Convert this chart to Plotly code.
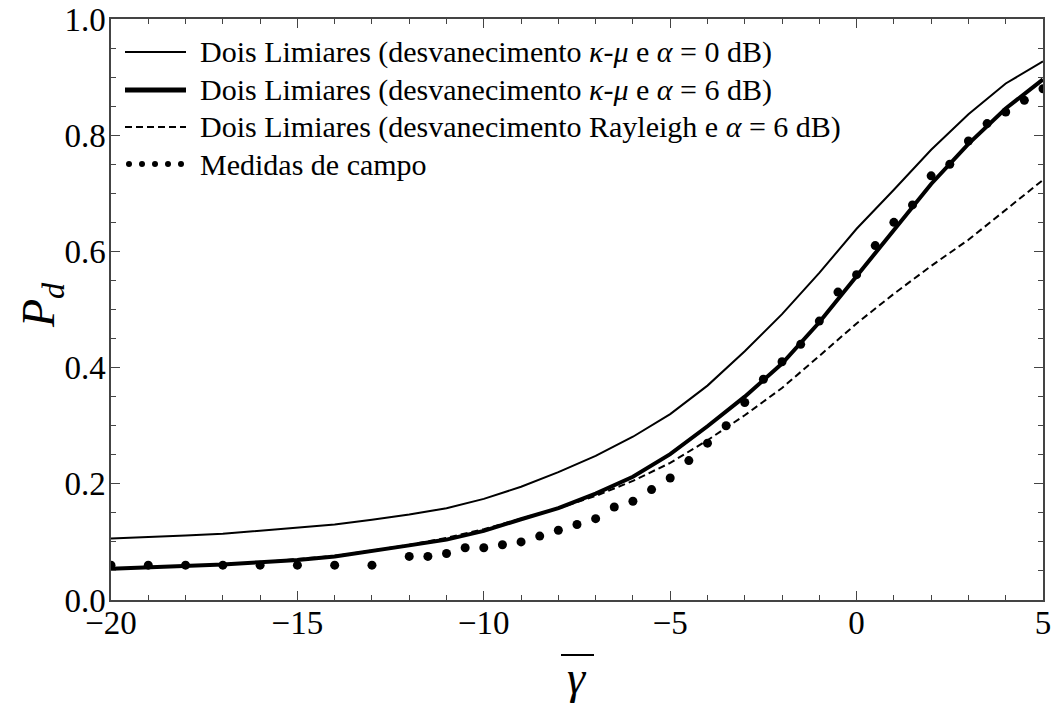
import plotly.graph_objects as go

# Average SNR (dB) at which the theoretical curves are evaluated
gamma_db = [-20, -19, -18, -17, -16, -15, -14, -13, -12, -11, -10, -9, -8,
            -7, -6, -5, -4, -3, -2, -1, 0, 1, 2, 3, 4, 5]

# Detection probability, two-threshold detector
pd_kmu_0db = [0.106, 0.108, 0.111, 0.114, 0.119, 0.124, 0.130, 0.138, 0.147,
              0.158, 0.174, 0.195, 0.220, 0.248, 0.281, 0.320, 0.369, 0.428,
              0.492, 0.563, 0.639, 0.706, 0.775, 0.836, 0.889, 0.927]
pd_kmu_6db = [0.054, 0.056, 0.058, 0.061, 0.065, 0.069, 0.075, 0.084, 0.094,
              0.104, 0.119, 0.139, 0.158, 0.183, 0.212, 0.251, 0.299, 0.350,
              0.407, 0.478, 0.558, 0.636, 0.716, 0.785, 0.846, 0.896]
pd_rayleigh_6db = [0.054, 0.056, 0.058, 0.061, 0.065, 0.070, 0.076, 0.085,
                   0.095, 0.107, 0.122, 0.140, 0.158, 0.179, 0.205, 0.236,
                   0.275, 0.318, 0.365, 0.420, 0.476, 0.527, 0.575, 0.620,
                   0.672, 0.723]

# Field measurements
meas_gamma_db = [-20, -19, -18, -17, -16, -15, -14, -13, -12, -11.5, -11,
                 -10.5, -10, -9.5, -9, -8.5, -8, -7.5, -7, -6.5, -6, -5.5, -5,
                 -4.5, -4, -3.5, -3, -2.5, -2, -1.5, -1, -0.5, 0, 0.5, 1, 1.5,
                 2, 2.5, 3, 3.5, 4, 4.5, 5]
meas_pd = [0.06, 0.06, 0.06, 0.06, 0.06, 0.06, 0.06, 0.06, 0.075, 0.075, 0.08,
           0.09, 0.09, 0.095, 0.10, 0.11, 0.12, 0.13, 0.14, 0.16, 0.17, 0.19,
           0.21, 0.24, 0.27, 0.30, 0.34, 0.38, 0.41, 0.44, 0.48, 0.53, 0.56,
           0.61, 0.65, 0.68, 0.73, 0.75, 0.79, 0.82, 0.84, 0.86, 0.88]

x_ticks = [-20, -15, -10, -5, 0, 5]
y_ticks = [0.0, 0.2, 0.4, 0.6, 0.8, 1.0]
y_tick_text = ["0.0", "0.2", "0.4", "0.6", "0.8", "1.0"]

legend_labels = [
    "Dois Limiares (desvanecimento <i>κ</i>-<i>μ</i> e <i>α</i> = 0 dB)",
    "Dois Limiares (desvanecimento <i>κ</i>-<i>μ</i> e <i>α</i> = 6 dB)",
    "Dois Limiares (desvanecimento Rayleigh e <i>α</i> = 6 dB)",
    "Medidas de campo",
]

SERIF = "Liberation Serif"
W, H = 1054, 706
ML, MR, MT, MB = 111, 11, 19, 106
PW, PH = W - ML - MR, H - MT - MB


def px(x):
    return (x - ML) / PW


def py(y):
    return (H - MB - y) / PH


fig = go.Figure()
fig.add_trace(go.Scatter(x=gamma_db, y=pd_kmu_0db, mode="lines",
                         line=dict(color="black", width=2), showlegend=False))
fig.add_trace(go.Scatter(x=gamma_db, y=pd_kmu_6db, mode="lines",
                         line=dict(color="black", width=4), showlegend=False))
fig.add_trace(go.Scatter(x=gamma_db, y=pd_rayleigh_6db, mode="lines",
                         line=dict(color="black", width=2, dash="7px,4px"),
                         showlegend=False))
fig.add_trace(go.Scatter(x=meas_gamma_db, y=meas_pd, mode="markers",
                         marker=dict(color="black", size=9),
                         showlegend=False))

shapes = []
annotations = []

# Hand-drawn legend in the upper left corner
rows_y = [52, 90, 127, 164]
styles = [dict(width=2), dict(width=5), dict(width=2, dash="7px,4px")]
for i, yy in enumerate(rows_y):
    if i < 3:
        shapes.append(dict(type="line", xref="paper", yref="paper",
                           x0=px(125), x1=px(186), y0=py(yy), y1=py(yy),
                           line=dict(color="black", **styles[i])))
    else:
        for cx in [129, 142, 155, 168, 181]:
            shapes.append(dict(type="circle", xref="paper", yref="paper",
                               x0=px(cx - 3), x1=px(cx + 3),
                               y0=py(yy - 3), y1=py(yy + 3),
                               fillcolor="black", line=dict(width=0)))
    annotations.append(dict(text=legend_labels[i], xref="paper", yref="paper",
                            x=px(198), y=py(yy), xanchor="left",
                            yanchor="middle", showarrow=False,
                            font=dict(family=SERIF, size=30, color="black")))

# Axis titles
annotations.append(dict(text="<i>P</i><sub><i>d</i></sub>", xref="paper",
                        yref="paper", x=px(42), y=py(305), textangle=-90,
                        xanchor="center", yanchor="middle", showarrow=False,
                        font=dict(family=SERIF, size=46, color="black")))
annotations.append(dict(text="<i>γ</i>", xref="paper", yref="paper",
                        x=px(577), y=py(677), xanchor="center",
                        yanchor="middle", showarrow=False,
                        font=dict(family=SERIF, size=46, color="black")))
shapes.append(dict(type="line", xref="paper", yref="paper",
                   x0=px(561), x1=px(594), y0=py(655), y1=py(655),
                   line=dict(color="black", width=2)))

axis_common = dict(
    showgrid=False, zeroline=False, showline=True, linecolor="#444",
    linewidth=1.5, mirror="allticks", ticks="inside", ticklen=9,
    tickcolor="#444", tickwidth=1, automargin=False,
    tickfont=dict(family=SERIF, size=33, color="black"),
)

fig.update_layout(
    template="none",
    width=W, height=H,
    margin=dict(l=ML, r=MR, t=MT, b=MB),
    paper_bgcolor="white", plot_bgcolor="white",
    xaxis=dict(range=[-20, 5], tickvals=x_ticks, ticklabelstandoff=-7,
               minor=dict(dtick=1, ticks="inside", ticklen=5,
                          tickcolor="#444"),
               **axis_common),
    yaxis=dict(range=[0, 1], tickvals=y_ticks, ticktext=y_tick_text,
               ticklabelstandoff=-3,
               minor=dict(dtick=0.05, ticks="inside", ticklen=5,
                          tickcolor="#444"),
               **axis_common),
    shapes=shapes,
    annotations=annotations,
)

fig.write_html("out.html")
